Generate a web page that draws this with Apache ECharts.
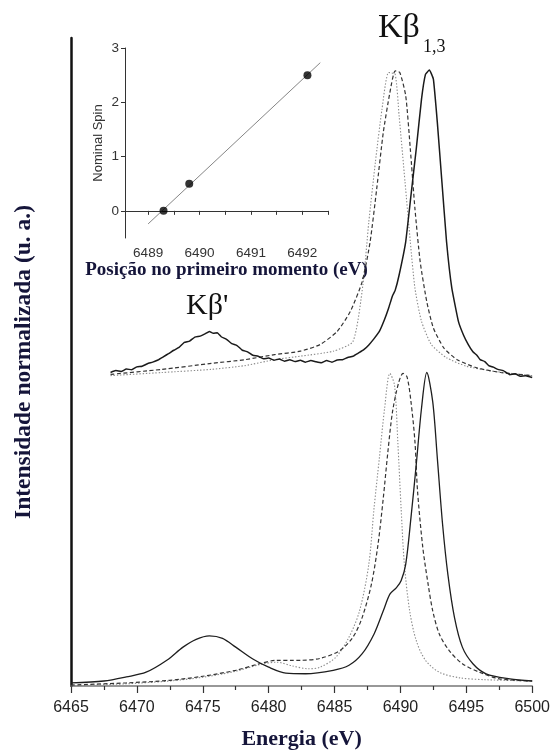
<!DOCTYPE html>
<html><head><meta charset="utf-8">
<script src="https://cdn.jsdelivr.net/npm/echarts@6/dist/echarts.min.js"></script>
<style>html,body{margin:0;padding:0;background:#fff}#c{width:553px;height:755px}</style>
</head><body><div id="c"></div>
<script>
// ---- Lower (calculated) spectra ----
const lowSolidE = [6465.0,6467.5,6469.2,6470.7,6472.3,6473.5,6474.5,6475.5,6476.5,6477.5,6478.8,6480.0,6481.3,6482.8,6484.9,6486.1,6487.1,6488.0,6488.7,6489.2,6489.7,6490.05,6490.4,6490.8,6491.2,6491.6,6492.0,6492.45,6492.8,6493.2,6493.6,6494.1,6494.7,6495.5,6496.5,6498.3,6500];
const lowSolidI = [0.010,0.016,0.029,0.044,0.083,0.124,0.149,0.160,0.152,0.124,0.086,0.060,0.041,0.039,0.050,0.066,0.103,0.166,0.240,0.293,0.314,0.336,0.388,0.537,0.706,0.886,1.000,0.907,0.727,0.515,0.356,0.219,0.124,0.071,0.039,0.023,0.016];
const lowDashE = [6465.0,6469.2,6472.5,6475.0,6477.5,6479.3,6480.6,6481.8,6482.4,6483.9,6485.4,6486.4,6487.1,6487.8,6488.3,6488.7,6489.05,6489.4,6489.85,6490.2,6490.5,6490.8,6491.1,6491.3,6491.7,6492.1,6492.45,6492.95,6493.7,6494.7,6496.0,6497.5,6500];
const lowDashI = [0.003,0.010,0.018,0.031,0.050,0.071,0.082,0.082,0.082,0.088,0.113,0.156,0.219,0.325,0.452,0.600,0.748,0.875,0.965,0.997,0.986,0.907,0.780,0.621,0.441,0.325,0.240,0.166,0.113,0.071,0.044,0.023,0.016];
const lowDotE = [6465.0,6469.2,6472.5,6475.0,6477.5,6479.3,6480.6,6481.8,6483.0,6483.9,6485.1,6486.1,6486.9,6487.6,6488.0,6488.4,6488.8,6489.2,6489.55,6489.8,6490.05,6490.3,6490.7,6491.2,6491.9,6492.95,6494.5,6496.5,6500];
const lowDotI = [0.000,0.007,0.016,0.028,0.047,0.068,0.076,0.064,0.055,0.060,0.092,0.156,0.240,0.388,0.568,0.727,0.886,0.997,0.960,0.780,0.568,0.388,0.240,0.145,0.082,0.044,0.026,0.020,0.016];

// ---- Upper (experimental, noisy) spectra, relative to their own baseline ----
const upSolidE = [6468.0,6468.4,6468.8,6469.2,6469.6,6470.0,6470.4,6470.8,6471.2,6471.6,6472.0,6472.4,6472.8,6473.2,6473.6,6474.0,6474.4,6474.8,6475.2,6475.5,6475.8,6476.1,6476.4,6476.8,6477.2,6477.6,6478.0,6478.4,6478.8,6479.2,6479.6,6480.0,6480.4,6480.8,6481.2,6481.6,6482.0,6482.4,6482.8,6483.2,6483.6,6484.0,6484.4,6484.8,6485.2,6485.6,6486.0,6486.4,6486.8,6487.2,6487.6,6488.0,6488.4,6488.8,6489.1,6489.4,6489.6,6489.9,6490.4,6490.8,6491.2,6491.6,6491.9,6492.2,6492.5,6492.8,6493.15,6493.5,6493.9,6494.4,6494.8,6495.15,6495.5,6495.8,6496.05,6496.4,6496.7,6497.05,6497.4,6497.8,6498.3,6498.7,6499.1,6499.5,6500];
const upSolidI = [0.000,0.006,0.003,0.011,0.009,0.018,0.020,0.028,0.033,0.040,0.050,0.060,0.071,0.080,0.096,0.100,0.113,0.116,0.124,0.131,0.125,0.127,0.114,0.106,0.092,0.086,0.071,0.066,0.055,0.052,0.044,0.046,0.039,0.043,0.036,0.041,0.035,0.039,0.033,0.038,0.034,0.031,0.038,0.033,0.040,0.041,0.048,0.052,0.062,0.072,0.088,0.108,0.131,0.170,0.205,0.245,0.262,0.311,0.417,0.565,0.713,0.872,0.951,0.965,0.936,0.798,0.607,0.417,0.269,0.163,0.118,0.089,0.066,0.055,0.041,0.035,0.022,0.017,0.010,0.006,-0.007,-0.004,-0.012,-0.010,-0.016];
const upDashE = [6468.0,6471.9,6475.65,6478.2,6480.45,6482.4,6483.9,6485.2,6486.2,6487.1,6487.7,6488.2,6488.7,6489.2,6489.6,6489.95,6490.4,6490.75,6491.1,6491.5,6492.0,6492.5,6493.3,6494.3,6495.8,6497.6,6500];
const upDashI = [-0.006,0.010,0.029,0.041,0.057,0.068,0.089,0.131,0.195,0.290,0.417,0.586,0.766,0.893,0.962,0.957,0.883,0.713,0.523,0.353,0.226,0.142,0.078,0.041,0.015,0.000,-0.010];
const upDotE = [6468.0,6471.9,6475.65,6478.2,6480.45,6482.4,6484.9,6486.4,6487.15,6487.6,6488.1,6488.6,6489.1,6489.6,6489.9,6490.35,6490.75,6491.1,6491.6,6492.35,6493.5,6495.0,6497.05,6500];
const upDotI = [-0.010,0.000,0.010,0.022,0.041,0.052,0.068,0.099,0.279,0.480,0.671,0.840,0.957,0.951,0.819,0.607,0.417,0.269,0.163,0.089,0.047,0.020,0.004,-0.010];

// ---- Inset: nominal spin vs first-moment position ----
const spinPos = [6489.3, 6489.8, 6492.1];
const spinVal = [0, 0.5, 2.5];
const fitPos = [6489.0, 6492.35];
const fitVal = [-0.24, 2.73];

const xTicksMain = [6465, 6470, 6475, 6480, 6485, 6490, 6495, 6500];
const insetXLabels = [6489, 6490, 6491, 6492];
const insetXTicks = [6489, 6489.5, 6490, 6490.5, 6491, 6491.5, 6492, 6492.5];
const insetYLabels = [0, 1, 2, 3];

const UPPER_OFFSET = 1.0;
function pairs(xs, ys, off) { return xs.map((x, i) => [x, ys[i] + (off || 0)]); }
const plain = v => String(v);

const serif = "'Liberation Serif','Times New Roman',serif";
const sans = "'Liberation Sans',Arial,sans-serif";
const titleColor = '#15153a';

const chart = echarts.init(document.getElementById('c'), null, { renderer: 'canvas' });

const solidStyle = { color: '#1e1e1e', width: 1.3 };
const dashStyle = { color: '#333', width: 1.2, type: [4, 2.5] };
const dotStyle = { color: '#8a8a8a', width: 1.1, type: [1.4, 1.8] };

function line(xs, ys, off, style, smooth) {
  return {
    type: 'line', xAxisIndex: 0, yAxisIndex: 0, data: pairs(xs, ys, off),
    showSymbol: false, symbol: 'none', smooth: smooth, lineStyle: style, z: 3
  };
}

chart.setOption({
  animation: false,
  backgroundColor: '#fff',
  grid: [
    { left: 71, right: 20, top: 38, bottom: 66 },
    { left: 125, right: 225, top: 48, bottom: 517 }
  ],
  xAxis: [
    {
      gridIndex: 0, type: 'value', min: xTicksMain[0], max: xTicksMain[xTicksMain.length - 1], interval: 5,
      axisLine: { lineStyle: { color: '#777', width: 1.5 } },
      axisTick: { length: 7, lineStyle: { color: '#333', width: 1.2 } },
      minorTick: { show: true, splitNumber: 2, length: 4, lineStyle: { color: '#333', width: 1.2 } },
      splitLine: { show: false },
      axisLabel: { formatter: plain, fontFamily: sans, fontSize: 16, color: '#222', margin: 14 },
      name: 'Energia (eV)', nameLocation: 'middle', nameGap: 42,
      nameTextStyle: { fontFamily: serif, fontWeight: 'bold', fontSize: 22, color: titleColor }
    },
    {
      gridIndex: 1, type: 'value', min: 6488.55, max: 6492.5,
      axisLine: { lineStyle: { color: '#333', width: 1 } },
      axisTick: { length: 4, customValues: insetXTicks, lineStyle: { color: '#333' } },
      splitLine: { show: false },
      axisLabel: { customValues: insetXLabels, formatter: plain, fontFamily: sans, fontSize: 13.5, color: '#333', margin: 8 },
      name: 'Posição no primeiro momento (eV)', nameLocation: 'middle', nameGap: 22,
      nameTextStyle: { fontFamily: serif, fontWeight: 'bold', fontSize: 19, color: titleColor }
    }
  ],
  yAxis: [
    {
      gridIndex: 0, type: 'value', min: 0, max: 2.067,
      axisLine: { show: true, lineStyle: { color: '#111', width: 2.5 } },
      axisTick: { show: false }, axisLabel: { show: false }, splitLine: { show: false },
      name: 'Intensidade normalizada (u. a.)', nameLocation: 'middle', nameGap: 35, nameRotate: 90,
      nameTextStyle: { fontFamily: serif, fontWeight: 'bold', fontSize: 23.5, color: titleColor }
    },
    {
      gridIndex: 1, type: 'value', min: -0.5, max: 3,
      axisLine: { show: true, lineStyle: { color: '#333', width: 1 } },
      axisTick: { show: true, length: 4, customValues: insetYLabels, lineStyle: { color: '#333' } },
      axisLabel: { customValues: insetYLabels, formatter: plain, fontFamily: sans, fontSize: 13.5, color: '#333', margin: 6 },
      splitLine: { show: false },
      name: 'Nominal Spin', nameLocation: 'middle', nameGap: 20, nameRotate: 90,
      nameTextStyle: { fontFamily: sans, fontSize: 13, color: '#333' }
    }
  ],
  series: [
    line(lowDotE, lowDotI, 0, dotStyle, 0.3),
    line(lowDashE, lowDashI, 0, dashStyle, 0.3),
    line(lowSolidE, lowSolidI, 0, solidStyle, 0.3),
    line(upDotE, upDotI, UPPER_OFFSET, dotStyle, 0.2),
    line(upDashE, upDashI, UPPER_OFFSET, dashStyle, 0.2),
    line(upSolidE, upSolidI, UPPER_OFFSET, { color: '#1a1a1a', width: 1.5 }, 0.1),
    {
      type: 'line', xAxisIndex: 1, yAxisIndex: 1, data: pairs(fitPos, fitVal, 0),
      showSymbol: false, symbol: 'none', lineStyle: { color: '#777', width: 0.9 }, z: 4
    },
    {
      type: 'scatter', xAxisIndex: 1, yAxisIndex: 1, data: pairs(spinPos, spinVal, 0),
      symbol: 'circle', symbolSize: 8, itemStyle: { color: '#000' }, z: 5
    }
  ],
  graphic: [
    { type: 'text', left: 378, top: 11, style: { text: 'Kβ', font: 'normal 34px ' + serif, fill: '#111' } },
    { type: 'text', left: 423, top: 38, style: { text: '1,3', font: 'normal 18px ' + serif, fill: '#111' } },
    { type: 'text', left: 186, top: 291, style: { text: "Kβ'", font: 'normal 30px ' + serif, fill: '#111' } }
  ]
});
</script></body></html>
